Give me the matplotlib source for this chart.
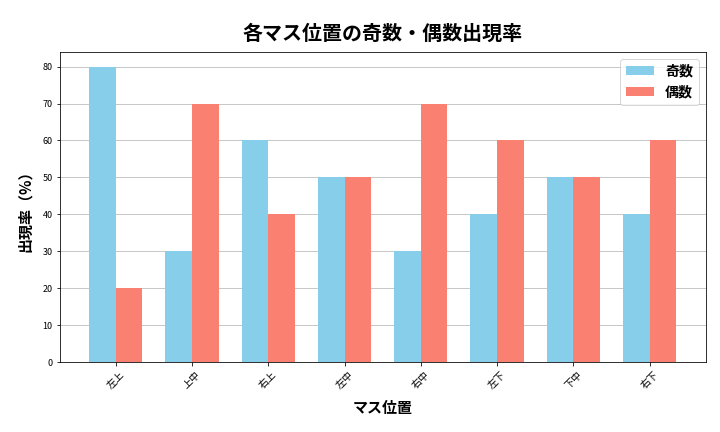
import numpy as np
import matplotlib
matplotlib.use('Agg')
import matplotlib.pyplot as plt

plt.rcParams['font.family'] = ['Noto Sans CJK JP', 'DejaVu Sans']

positions = ['左上', '上中', '右上', '左中', '右中', '左下', '下中', '右下']
odd_rate = [80, 30, 60, 50, 30, 40, 50, 40]
even_rate = [20, 70, 40, 50, 70, 60, 50, 60]

x = np.arange(len(positions))
width = 0.35

fig, ax = plt.subplots(figsize=(10, 6), dpi=72)
fig.subplots_adjust(left=0.083, right=0.98, top=0.88, bottom=0.162)

ax.bar(x - width / 2, odd_rate, width, color='skyblue', label='奇数', zorder=2)
ax.bar(x + width / 2, even_rate, width, color='salmon', label='偶数', zorder=2)

ax.set_title('各マス位置の奇数・偶数出現率', fontsize=20, fontweight='bold', pad=12)
ax.set_xlabel('マス位置', fontsize=15, fontweight='bold', labelpad=10)
ax.set_ylabel('出現率（%）', fontsize=15, fontweight='bold', labelpad=10)
ax.set_xticks(x)
ax.set_xticklabels(positions, rotation=45, fontsize=10)
ax.tick_params(axis='y', labelsize=9)
ax.set_ylim(0, 84)
ax.set_yticks(range(0, 81, 10))
ax.yaxis.grid(True, color='#bbbbbb', linewidth=0.8, zorder=0)
ax.set_axisbelow(True)
ax.legend(prop={'size': 14, 'weight': 'bold'}, loc='upper right')

fig.savefig('out.png', dpi=72)
